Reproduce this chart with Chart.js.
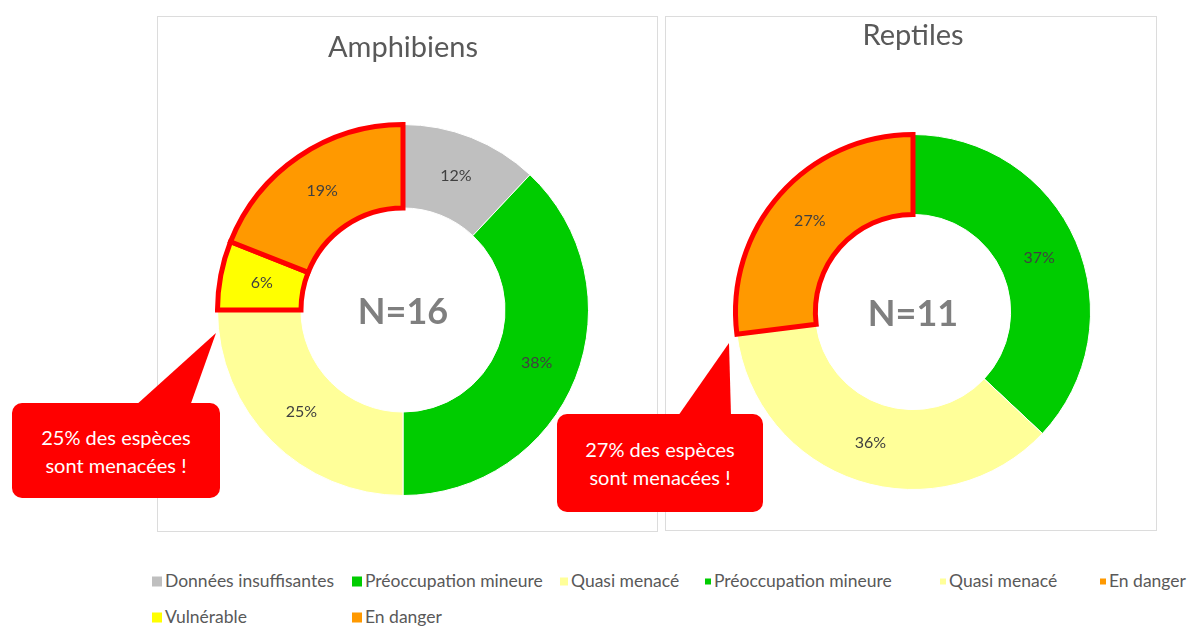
<!DOCTYPE html>
<html>
<head>
<meta charset="utf-8">
<script src="https://cdn.jsdelivr.net/npm/chart.js"></script>
<style>
    body { margin: 0; background: #fff; width: 1193px; height: 628px; overflow: hidden; position: relative; font-family: Lato, "Noto Sans", sans-serif; }
    .panel { position: absolute; border: 1px solid #dcdcdc; }
    .panel canvas { display: block; }
    .callout { position: absolute; background: #ff0000; border-radius: 10px; color: #fff; font-size: 20px; line-height: 28px; text-align: center; display: flex; align-items: center; justify-content: center; }
    .pointer { position: absolute; left: 0; top: 0; width: 1193px; height: 628px; background: #ff0000; }
    .legend-item { position: absolute; font-size: 17.5px; color: #595959; white-space: nowrap; transform: translateY(-50%); }
    .legend-item i { display: inline-block; vertical-align: middle; margin-right: 3px; margin-top: -2px; }
</style>
</head>
<body>

<div class="panel" id="panelAmph" style="left:157px; top:16px; width:499px; height:514px;"><canvas id="amphChart"></canvas></div>
<div class="panel" id="panelRept" style="left:665px; top:16px; width:490px; height:513px;"><canvas id="reptChart"></canvas></div>

<div class="pointer" style="clip-path: polygon(216px 333px, 135px 406px, 190px 406px);"></div>
<div class="callout" style="left:12px; top:403px; width:208px; height:95px;">25% des espèces<br>sont menacées !</div>
<div class="pointer" style="clip-path: polygon(729px 343px, 678px 416px, 731px 416px);"></div>
<div class="callout" style="left:557px; top:414px; width:206px; height:98px;">27% des espèces<br>sont menacées !</div>

<div id="legend"></div>

<script>
'use strict';

// Amphibiens (N=16)
const amphCategories = ['Données insuffisantes', 'Préoccupation mineure', 'Quasi menacé', 'Vulnérable', 'En danger'];
const amphValues = [12, 38, 25, 6, 19];
const amphLabels = ['12%', '38%', '25%', '6%', '19%'];

// Reptiles (N=11)
const reptCategories = ['Préoccupation mineure', 'Quasi menacé', 'En danger'];
const reptValues = [37, 36, 27];
const reptLabels = ['37%', '36%', '27%'];

// Legend as it stands under the two charts
const legendLabels = ['Données insuffisantes', 'Préoccupation mineure', 'Quasi menacé', 'Préoccupation mineure', 'Quasi menacé', 'En danger', 'Vulnérable', 'En danger'];

const statusColors = {
    'Données insuffisantes': '#bfbfbf',
    'Préoccupation mineure': '#00cc00',
    'Quasi menacé': '#ffff99',
    'Vulnérable': '#ffff00',
    'En danger': '#ff9900'
};
const threatened = ['Vulnérable', 'En danger'];

// legend layout: x, y, marker size
const legendLayout = [
    [152, 580, 10], [352, 580, 10], [560, 580, 8], [705, 580, 6],
    [940, 580, 6], [1100, 580, 6], [152, 616, 10], [352, 616, 10]
];

// Draws the percentage on each slice and the N= text in the hole
const sliceLabels = {
    id: 'sliceLabels',
    afterDatasetsDraw(chart, args, opts) {
        const ctx = chart.ctx;
        const meta = chart.getDatasetMeta(0);
        ctx.save();
        ctx.textAlign = 'center';
        ctx.textBaseline = 'middle';
        ctx.font = '16px Lato';
        ctx.fillStyle = '#404040';
        meta.data.forEach(function(arc, i) {
            const pos = arc.tooltipPosition();
            ctx.fillText(opts.labels[i], pos.x, pos.y);
        });
        ctx.font = 'bold 36px Lato';
        ctx.fillStyle = '#7f7f7f';
        ctx.fillText(opts.centerText, meta.data[0].x, meta.data[0].y + 2);
        ctx.restore();
    }
};

function makeDonut(canvasId, title, categories, values, labels, centerText, pad, titlePad) {
    const ctx = document.getElementById(canvasId).getContext('2d');
    return new Chart(ctx, {
        type: 'doughnut',
        data: {
            labels: categories,
            datasets: [{
                data: values,
                backgroundColor: categories.map(c => statusColors[c]),
                borderColor: categories.map(c => threatened.includes(c) ? '#ff0000' : '#ffffff'),
                borderWidth: categories.map(c => threatened.includes(c) ? 5 : 1),
                borderJoinStyle: 'miter',
                hoverOffset: 0
            }]
        },
        options: {
            responsive: true,
            maintainAspectRatio: false,
            animation: false,
            events: [],
            cutout: '55%',
            layout: { padding: pad },
            plugins: {
                legend: { display: false },
                tooltip: { enabled: false },
                title: {
                    display: true,
                    text: title,
                    color: '#595959',
                    font: { family: 'Lato', size: 29, weight: 'normal' },
                    padding: titlePad
                },
                sliceLabels: { labels: labels, centerText: centerText }
            }
        },
        plugins: [sliceLabels]
    });
}

makeDonut('amphChart', 'Amphibiens', amphCategories, amphValues, amphLabels, 'N=16',
    { left: 57, right: 66, top: 0, bottom: 33 }, { top: 13.6, bottom: 56.6 });
makeDonut('reptChart', 'Reptiles', reptCategories, reptValues, reptLabels, 'N=11',
    { left: 67, right: 63, top: 0, bottom: 38 }, { top: 1.6, bottom: 78.6 });

// Build the legend
const legend = document.getElementById('legend');
legendLabels.forEach(function(label, i) {
    const pos = legendLayout[i];
    const item = document.createElement('div');
    item.className = 'legend-item';
    item.style.left = pos[0] + 'px';
    item.style.top = pos[1] + 'px';
    const marker = document.createElement('i');
    marker.style.width = pos[2] + 'px';
    marker.style.height = pos[2] + 'px';
    marker.style.background = statusColors[label];
    item.appendChild(marker);
    item.appendChild(document.createTextNode(label));
    legend.appendChild(item);
});
</script>
</body>
</html>
